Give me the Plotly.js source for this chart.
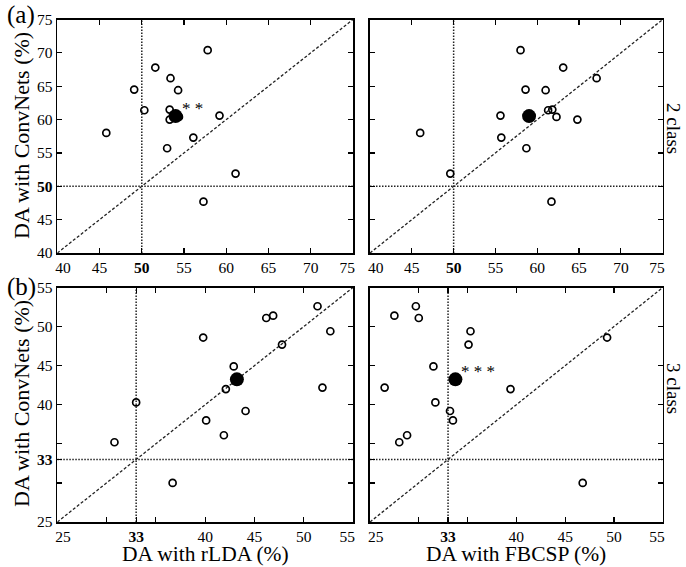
<!DOCTYPE html>
<html>
<head>
<meta charset="utf-8">
<script src="https://cdn.plot.ly/plotly-3.0.1.min.js"></script>
<style>html,body{margin:0;padding:0;background:#fff;}#chart{width:686px;height:567px;}</style>
</head>
<body>
<div id="chart"></div>
<script>
// ---- data (per subject, same order in every array) ----
const convnet2 = [70.4, 67.8, 66.2, 64.5, 64.4, 61.5, 61.4, 60.6, 60.4, 60.0, 58.0, 57.3, 55.7, 51.9, 47.7];
const rlda2    = [57.8, 51.6, 53.4, 49.1, 54.3, 53.3, 50.3, 59.2, 54.4, 53.3, 45.8, 56.1, 53.0, 61.1, 57.3];
const fbcsp2   = [58.0, 63.1, 67.1, 58.6, 61.0, 61.8, 61.3, 55.6, 62.3, 64.8, 46.0, 55.7, 58.7, 49.6, 61.7];

const convnet3 = [52.6, 51.4, 51.1, 49.4, 48.6, 47.7, 44.9, 42.2, 42.0, 40.3, 39.2, 38.0, 36.1, 35.2, 30.0];
const rlda3    = [51.4, 46.9, 46.2, 52.7, 39.8, 47.8, 42.9, 51.9, 42.1, 33.0, 44.1, 40.1, 41.9, 30.8, 36.7];
const fbcsp3   = [29.7, 27.5, 30.0, 35.3, 49.3, 35.1, 31.5, 26.5, 39.4, 31.7, 33.2, 33.5, 28.8, 28.0, 46.8];

const range2 = [40, 75];
const range3 = [25, 55];
const chance2 = 50;
const chance3 = 33;
const tickVals2 = [40, 45, 50, 55, 60, 65, 70, 75];
const tickText2 = ['40', '45', '<b>50</b>', '55', '60', '65', '70', '75'];
const tickVals3 = [25, 30, 33, 35, 40, 45, 50, 55];
const tickText3 = ['25', '', '<b>33</b>', '', '40', '45', '50', '55'];
const sigLabels = ['* *', '', '', '* * *'];

const mean = a => a.reduce((s, v) => s + v, 0) / a.length;
// end labels of the x axes are nudged inward (as in the original figure)
const PAD = '\u2007\u00a0';
const inward = tt => tt.map((t, k) => k === 0 ? PAD + t : (k === tt.length - 1 ? t + PAD : t));

const panels = [
  {xs: rlda2,  ys: convnet2, r: range2, c: chance2, xa: 'x',  ya: 'y'},
  {xs: fbcsp2, ys: convnet2, r: range2, c: chance2, xa: 'x2', ya: 'y2'},
  {xs: rlda3,  ys: convnet3, r: range3, c: chance3, xa: 'x3', ya: 'y3'},
  {xs: fbcsp3, ys: convnet3, r: range3, c: chance3, xa: 'x4', ya: 'y4'}
];

const serif = '"Liberation Serif", "DejaVu Serif", serif';
const traces = [];
const annotations = [];
panels.forEach((p, i) => {
  const base = {xaxis: p.xa, yaxis: p.ya, showlegend: false, hoverinfo: 'skip'};
  traces.push(Object.assign({type: 'scatter', mode: 'lines', x: p.r, y: p.r,
    line: {color: '#222', width: 1.3, dash: '3px,2px'}}, base));
  traces.push(Object.assign({type: 'scatter', mode: 'lines', x: [p.c, p.c], y: p.r,
    line: {color: '#222', width: 1.5, dash: '1.5px,1.5px'}}, base));
  traces.push(Object.assign({type: 'scatter', mode: 'lines', x: p.r, y: [p.c, p.c],
    line: {color: '#222', width: 1.5, dash: '1.5px,1.5px'}}, base));
  traces.push(Object.assign({type: 'scatter', mode: 'markers', x: p.xs, y: p.ys,
    marker: {symbol: 'circle-open', size: 7, color: '#000', line: {width: 1.7, color: '#000'}}}, base));
  const mx = mean(p.xs), my = mean(p.ys);
  traces.push(Object.assign({type: 'scatter', mode: 'markers', x: [mx], y: [my],
    marker: {symbol: 'circle', size: 14, color: '#000'}}, base));
  if (sigLabels[i]) {
    annotations.push({xref: p.xa, yref: p.ya, x: mx, y: my, text: sigLabels[i], showarrow: false,
      xanchor: 'left', yanchor: 'bottom', xshift: 4, yshift: -4,
      font: {family: serif, size: 17, color: '#000'}});
  }
});

function ax(domain, r, tv, tt, anchor) {
  return {domain: domain, range: r, anchor: anchor, tickvals: tv, ticktext: tt,
    showline: true, linecolor: '#000', linewidth: 1.6, mirror: 'ticks',
    ticks: 'inside', ticklen: 5, tickwidth: 1.2, tickcolor: '#000',
    showgrid: false, zeroline: false, fixedrange: true,
    tickfont: {family: serif, size: 15.5, color: '#000'}};
}
const W = 686, H = 567;
const xL = [57.3 / W, 353 / W], xR = [370 / W, 662.7 / W];
const yT = [1 - 253 / H, 1 - 19.5 / H], yB = [1 - 522 / H, 1 - 287.5 / H];

function label(x, y, text, size, angle) {
  return {xref: 'paper', yref: 'paper', x: x / W, y: 1 - y / H, text: text, textangle: angle || 0,
    xanchor: 'center', yanchor: 'middle', showarrow: false,
    font: {family: serif, size: size, color: '#000'}};
}
annotations.push(
  label(21, 136, 'DA with ConvNets (%)', 22, -90),
  label(21, 404, 'DA with ConvNets (%)', 22, -90),
  label(206, 554, 'DA with rLDA (%)', 21.5),
  label(516, 554, 'DA with FBCSP (%)', 21.5),
  label(21, 15, '(a)', 25),
  label(21, 287, '(b)', 25),
  label(674, 128, '2 class', 19, 90),
  label(674, 388, '3 class', 19, 90)
);

const xt2 = inward(tickText2), xt3 = inward(tickText3);
const layout = {
  width: W, height: H, margin: {l: 0, r: 0, t: 0, b: 0},
  paper_bgcolor: '#fff', plot_bgcolor: '#fff',
  xaxis:  ax(xL, range2, tickVals2, xt2, 'y'),
  yaxis:  ax(yT, range2, tickVals2, tickText2, 'x'),
  xaxis2: ax(xR, range2, tickVals2, xt2, 'y2'),
  yaxis2: Object.assign(ax(yT, range2, tickVals2, tickText2, 'x2'), {showticklabels: false}),
  xaxis3: ax(xL, range3, tickVals3, xt3, 'y3'),
  yaxis3: ax(yB, range3, tickVals3, tickText3, 'x3'),
  xaxis4: ax(xR, range3, tickVals3, xt3, 'y4'),
  yaxis4: Object.assign(ax(yB, range3, tickVals3, tickText3, 'x4'), {showticklabels: false}),
  annotations: annotations,
  font: {family: serif, color: '#000'}
};
Plotly.newPlot('chart', traces, layout, {displayModeBar: false, staticPlot: true});
</script>
</body>
</html>
